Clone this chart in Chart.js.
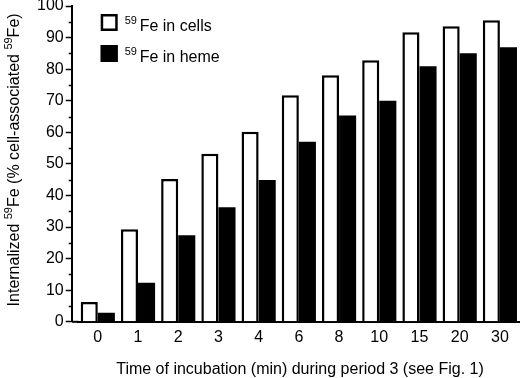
<!DOCTYPE html>
<html>
<head>
<meta charset="utf-8">
<script src="https://cdn.jsdelivr.net/npm/chart.js@4.4.0/dist/chart.umd.min.js"></script>
<style>
  body { margin: 0; background: #fff; }
  #wrap { width: 520px; height: 378px; }
</style>
</head>
<body>
<div id="wrap"><canvas id="ironChart" width="520" height="378"></canvas></div>
<script>
// time points (min) during period 3
const timePoints = ['0', '1', '2', '3', '4', '6', '8', '10', '15', '20', '30'];
// % of cell-associated 59Fe
const feInCells = [6.3, 29.3, 45.2, 53.2, 60.2, 71.7, 78.1, 82.8, 91.7, 93.6, 95.5];
const feInHeme = [2.9, 12.4, 27.4, 36.3, 44.9, 57.0, 65.3, 70.0, 80.9, 85.0, 86.9];
const yTicks = [0, 10, 20, 30, 40, 50, 60, 70, 80, 90, 100];
const seriesNames = ['Fe in cells', 'Fe in heme'];
const isotope = '59';
// title pieces, superscript parts flagged
const yTitleParts = [['Internalized ', false], [isotope, true], ['Fe (% cell-associated ', false], [isotope, true], ['Fe)', false]];
const xTitle = 'Time of incubation (min) during period 3 (see Fig. 1)';

const FONT = '"Liberation Sans", Arial, Helvetica, sans-serif';
const GAP = 6; // space between the y axis and the first group

const extras = {
    id: 'extras',
    // push the category axis a bit right of the y axis like in the original
    afterLayout(chart) {
        const x = chart.scales.x;
        x.left = chart.chartArea.left + GAP;
        x.configure();
    },
    afterDraw(chart) {
        const ctx = chart.ctx;
        const y = chart.scales.y;
        const area = chart.chartArea;
        ctx.save();
        ctx.strokeStyle = '#000';
        ctx.fillStyle = '#000';

        // x axis piece under the gap
        ctx.lineWidth = 2;
        ctx.beginPath();
        ctx.moveTo(area.left, area.bottom);
        ctx.lineTo(area.left + GAP + 1, area.bottom);
        ctx.stroke();

        // minor ticks at the 5s
        ctx.lineWidth = 1.5;
        for (let v = 5; v < 100; v += 10) {
            const py = Math.round(y.getPixelForValue(v)) + 0.5;
            ctx.beginPath();
            ctx.moveTo(y.right - 3, py);
            ctx.lineTo(y.right, py);
            ctx.stroke();
        }

        // legend
        const left = area.left + 29;
        chart.data.datasets.forEach((ds, i) => {
            const top = 14 + i * 31;
            ctx.fillStyle = ds.backgroundColor;
            ctx.fillRect(left, top, 17, 17);
            ctx.lineWidth = 2.5;
            ctx.strokeStyle = '#000';
            ctx.strokeRect(left + 1.25, top + 1.25, 14.5, 14.5);
            ctx.fillStyle = '#000';
            ctx.textBaseline = 'alphabetic';
            ctx.font = '11px ' + FONT;
            ctx.fillText(isotope, left + 24, top + 10);
            ctx.font = '16px ' + FONT;
            ctx.fillText(ds.label, left + 39, top + 17);
        });

        // y title, rotated, with superscripts
        ctx.save();
        ctx.translate(19, (area.top + area.bottom) / 2 - 4);
        ctx.rotate(-Math.PI / 2);
        const fontOf = sup => (sup ? '11px ' : '16px ') + FONT;
        let total = 0;
        yTitleParts.forEach(([t, sup]) => { ctx.font = fontOf(sup); total += ctx.measureText(t).width; });
        let pos = -total / 2;
        yTitleParts.forEach(([t, sup]) => {
            ctx.font = fontOf(sup);
            ctx.fillText(t, pos, sup ? -7 : 0);
            pos += ctx.measureText(t).width;
        });
        ctx.restore();

        // x title
        ctx.font = '16px ' + FONT;
        ctx.textAlign = 'center';
        ctx.fillText(xTitle, 300, 374);
        ctx.restore();
    }
};

const ctx = document.getElementById('ironChart').getContext('2d');
new Chart(ctx, {
    type: 'bar',
    data: {
        labels: timePoints,
        datasets: [{
            label: seriesNames[0],
            data: feInCells,
            backgroundColor: '#ffffff',
            borderColor: '#000000',
            borderWidth: 2.5,
            borderSkipped: 'bottom'
        }, {
            label: seriesNames[1],
            data: feInHeme,
            backgroundColor: '#000000',
            borderColor: '#000000',
            borderWidth: 0
        }]
    },
    options: {
        responsive: false,
        animation: false,
        devicePixelRatio: 1,
        layout: { padding: { top: 0, right: -2, left: 35, bottom: 25 } },
        datasets: {
            bar: { categoryPercentage: 0.85, barPercentage: 1.0 }
        },
        plugins: {
            legend: { display: false },
            tooltip: { enabled: false }
        },
        scales: {
            x: {
                grid: { display: false, drawTicks: false },
                border: { color: '#000', width: 2 },
                ticks: { color: '#000', font: { family: FONT, size: 16 }, padding: 6 }
            },
            y: {
                min: 0,
                max: 100,
                afterBuildTicks: scale => { scale.ticks = yTicks.map(v => ({ value: v })); },
                grid: { drawOnChartArea: false, tickLength: 6, tickColor: '#000', tickWidth: 1.5 },
                border: { color: '#000', width: 2 },
                ticks: { color: '#000', font: { family: FONT, size: 16, lineHeight: 0.5 }, padding: 2 }
            }
        }
    },
    plugins: [extras]
});
</script>
</body>
</html>
